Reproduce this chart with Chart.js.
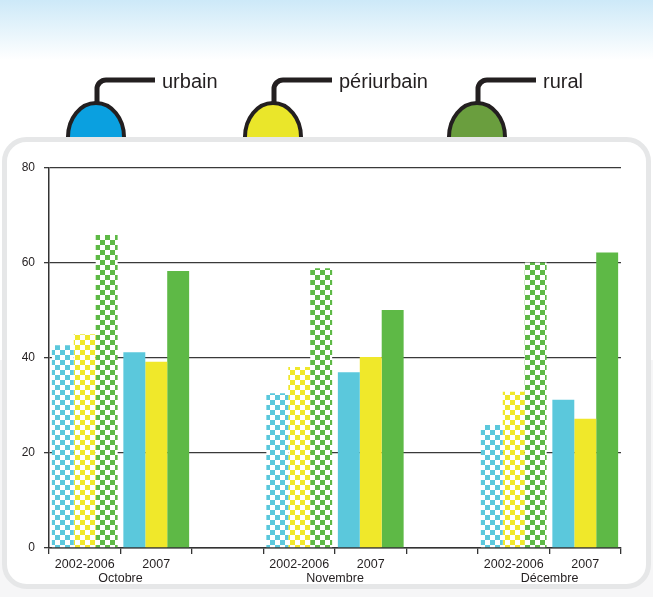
<!DOCTYPE html>
<html lang="fr">
<head>
<meta charset="utf-8">
<title>urbain / périurbain / rural</title>
<script src="https://cdn.jsdelivr.net/npm/chart.js@4.4.1/dist/chart.umd.min.js"></script>
<style>
  html, body { margin: 0; padding: 0; background: #fff; }
  #wrap { width: 653px; height: 597px; }
</style>
</head>
<body>
<div id="wrap"><canvas id="chart" width="653" height="597"></canvas></div>
<script>
// x categories ('' = empty slot between two months)
const periodLabels = ['2002-2006', '2007', '', '2002-2006', '2007', '', '2002-2006', '2007'];
const monthLabels = ['Octobre', 'Novembre', 'Décembre'];
const seriesNames = ['urbain', 'périurbain', 'rural'];

// values
const urbain     = [42.7, 41.2, null, 32.6, 37.0, null, 25.9, 31.2];
const periurbain = [45.0, 39.2, null, 38.1, 40.2, null, 32.9, 27.2];
const rural      = [65.9, 58.3, null, 58.9, 50.1, null, 60.1, 62.2];

const yTicks = [0, 20, 40, 60, 80];

// bar colours and legend bubble colours
const barColors = ['#5bc8dc', '#f0e82a', '#5eb946'];
const bubbleColors = ['#0aa0e0', '#eae62a', '#6a9e3e'];
const bubbleX = [96, 273, 477];

const FONT = "'Liberation Sans', Arial, sans-serif";
const INK = '#231f20';

// checkered fill used for the 2002-2006 averages
function checker(color) {
    const c = document.createElement('canvas');
    c.width = 10;
    c.height = 10;
    const g = c.getContext('2d');
    g.fillStyle = '#fff';
    g.fillRect(0, 0, 10, 10);
    g.fillStyle = color;
    g.fillRect(0, 0, 5, 5);
    g.fillRect(5, 5, 5, 5);
    return g.createPattern(c, 'repeat');
}

function barFills(color) {
    const pat = checker(color);
    return periodLabels.map(l => l === '2002-2006' ? pat : color);
}

// background, legend bubbles and the rounded panel
const decor = {
    id: 'decor',
    beforeDraw(chart) {
        const ctx = chart.ctx;
        ctx.save();
        const bg = ctx.createLinearGradient(0, 0, 0, 60);
        bg.addColorStop(0, '#cde9f8');
        bg.addColorStop(1, '#ffffff');
        ctx.fillStyle = bg;
        ctx.fillRect(0, 0, chart.width, 60);
        ctx.fillStyle = '#fff';
        ctx.fillRect(0, 60, chart.width, 300);
        ctx.fillStyle = '#f6f6f7';
        ctx.fillRect(0, 360, chart.width, chart.height - 360);

        seriesNames.forEach((name, i) => {
            const cx = bubbleX[i];
            ctx.beginPath();
            ctx.ellipse(cx, 137, 28, 34, 0, 0, Math.PI * 2);
            ctx.fillStyle = bubbleColors[i];
            ctx.fill();
            ctx.lineWidth = 4;
            ctx.strokeStyle = INK;
            ctx.stroke();

            ctx.beginPath();
            ctx.moveTo(cx + 1, 103);
            ctx.lineTo(cx + 1, 89);
            ctx.arcTo(cx + 1, 80, cx + 10, 80, 9);
            ctx.lineTo(cx + 59, 80);
            ctx.lineWidth = 5;
            ctx.stroke();

            ctx.fillStyle = INK;
            ctx.font = '20px ' + FONT;
            ctx.textBaseline = 'alphabetic';
            ctx.textAlign = 'left';
            ctx.fillText(name, cx + 66, 88);
        });

        ctx.beginPath();
        ctx.roundRect(4.5, 139.5, 644, 447, 22);
        ctx.fillStyle = '#fff';
        ctx.fill();
        ctx.lineWidth = 5;
        ctx.strokeStyle = '#e6e7e8';
        ctx.stroke();
        ctx.restore();
    },
    afterDraw(chart) {
        // month names centred under each pair of periods
        const ctx = chart.ctx;
        const x = chart.scales.x;
        ctx.save();
        ctx.fillStyle = INK;
        ctx.font = '12.5px ' + FONT;
        ctx.textAlign = 'center';
        ctx.textBaseline = 'middle';
        monthLabels.forEach((m, i) => {
            const px = (x.getPixelForValue(i * 3) + x.getPixelForValue(i * 3 + 1)) / 2;
            ctx.fillText(m, px, 579);
        });
        ctx.restore();
    }
};

new Chart(document.getElementById('chart'), {
    type: 'bar',
    data: {
        labels: periodLabels,
        datasets: [
            { label: seriesNames[0], data: urbain, backgroundColor: barFills(barColors[0]) },
            { label: seriesNames[1], data: periurbain, backgroundColor: barFills(barColors[1]) },
            { label: seriesNames[2], data: rural, backgroundColor: barFills(barColors[2]) }
        ]
    },
    options: {
        responsive: false,
        animation: false,
        categoryPercentage: 0.92,
        barPercentage: 1,
        layout: {
            padding: { top: 168, right: 32, bottom: 0, left: 0 }
        },
        plugins: {
            legend: { display: false },
            tooltip: { enabled: false }
        },
        scales: {
            x: {
                afterFit: s => { s.height = 49; },
                border: { color: '#333', width: 1.5 },
                grid: {
                    offset: true,
                    drawOnChartArea: false,
                    tickLength: 6,
                    color: '#333',
                    lineWidth: 1.3
                },
                ticks: {
                    color: INK,
                    font: { family: FONT, size: 12.5 },
                    padding: 3,
                    maxRotation: 0,
                    autoSkip: false
                }
            },
            y: {
                min: 0,
                max: 80,
                afterFit: s => { s.width = 49; },
                afterBuildTicks: s => { s.ticks = yTicks.map(v => ({ value: v })); },
                border: { color: '#333', width: 1.5 },
                grid: {
                    color: '#3a3a3a',
                    lineWidth: 1.3,
                    tickLength: 5
                },
                ticks: {
                    color: INK,
                    font: { family: FONT, size: 12 },
                    padding: 9
                }
            }
        }
    },
    plugins: [decor]
});
</script>
</body>
</html>
